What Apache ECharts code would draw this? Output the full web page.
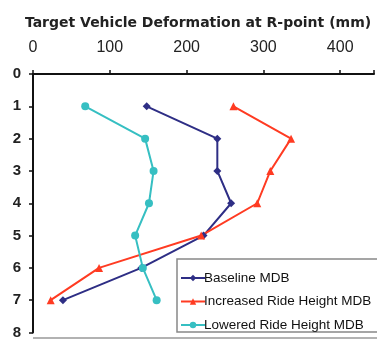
<!DOCTYPE html>
<html><head><meta charset="utf-8">
<script src="https://cdn.jsdelivr.net/npm/echarts@6/dist/echarts.min.js"></script>
<style>html,body{margin:0;padding:0;background:#fff}#c{width:377px;height:340px}</style>
</head><body><div id="c"></div>
<script>
var positions = [1, 2, 3, 4, 5, 6, 7];
var baseline = [148, 240, 240, 258, 222, 141, 39];
var increased = [261, 336, 309, 292, 219, 86, 23];
var lowered = [68, 146, 157, 151, 133, 143, 161];
var seriesNames = ['Baseline MDB', 'Increased Ride Height MDB', 'Lowered Ride Height MDB'];
var xTicks = [0, 100, 200, 300, 400];
var yTicks = [0, 1, 2, 3, 4, 5, 6, 7, 8];

function pairs(vals) { return vals.map(function (v, i) { return [v, positions[i]]; }); }

var chart = echarts.init(document.getElementById('c'));
chart.setOption({
  animation: false,
  title: {
    text: 'Target Vehicle Deformation at R-point (mm)',
    left: 193, top: 11, textAlign: 'center',
    textStyle: { fontFamily: 'DejaVu Sans', fontSize: 14, fontWeight: 'bold', color: '#222' }
  },
  grid: { left: 33, right: 0, top: 74, bottom: 1, containLabel: false },
  xAxis: {
    type: 'value', position: 'top', min: 0, max: 444, interval: 100,
    axisLine: { show: true, lineStyle: { color: '#111', width: 2 } },
    axisTick: { show: true, length: 4, lineStyle: { color: '#111', width: 1.5 } },
    splitLine: { show: false },
    axisLabel: { fontFamily: 'Liberation Sans', fontSize: 16, color: '#222', margin: 18,
      formatter: function (v) { return xTicks.indexOf(v) >= 0 ? String(v) : ''; } }
  },
  yAxis: {
    type: 'value', inverse: true, min: 0, max: 8, interval: 1,
    axisLine: { show: true, lineStyle: { color: '#111', width: 2 } },
    axisTick: { show: true, length: 4, lineStyle: { color: '#111', width: 1.5 } },
    splitLine: { show: false },
    axisLabel: { fontFamily: 'Liberation Sans', fontSize: 15, fontWeight: 'bold', color: '#222', margin: 12,
      formatter: function (v) { return yTicks.indexOf(v) >= 0 ? String(v) : ''; } }
  },
  legend: {
    orient: 'vertical', left: 175, top: 266, itemWidth: 24, itemHeight: 8, itemGap: 9.5,
    textStyle: { fontFamily: 'Liberation Sans', fontSize: 13.5, lineHeight: 14, color: '#111', padding: [0, 0, 0, -6] },
    data: seriesNames
  },
  graphic: [
    { type: 'rect', z: -1, shape: { x: 177, y: 259, width: 210, height: 73 },
      style: { fill: '#fff', stroke: '#888', lineWidth: 1.5 } },
    { type: 'line', shape: { x1: 33, y1: 338, x2: 377, y2: 338 }, style: { stroke: '#999', lineWidth: 1.5 } }
  ],
  series: [
    { name: seriesNames[0], type: 'line', data: pairs(baseline), symbol: 'diamond', symbolSize: 8,
      lineStyle: { color: '#2E2E85', width: 2 }, itemStyle: { color: '#2E2E85' } },
    { name: seriesNames[1], type: 'line', data: pairs(increased), symbol: 'triangle', symbolSize: 8,
      lineStyle: { color: '#FF3B22', width: 2 }, itemStyle: { color: '#FF3B22' } },
    { name: seriesNames[2], type: 'line', data: pairs(lowered), symbol: 'circle', symbolSize: 8,
      lineStyle: { color: '#36BFC2', width: 2 }, itemStyle: { color: '#36BFC2' } }
  ]
});
</script></body></html>
